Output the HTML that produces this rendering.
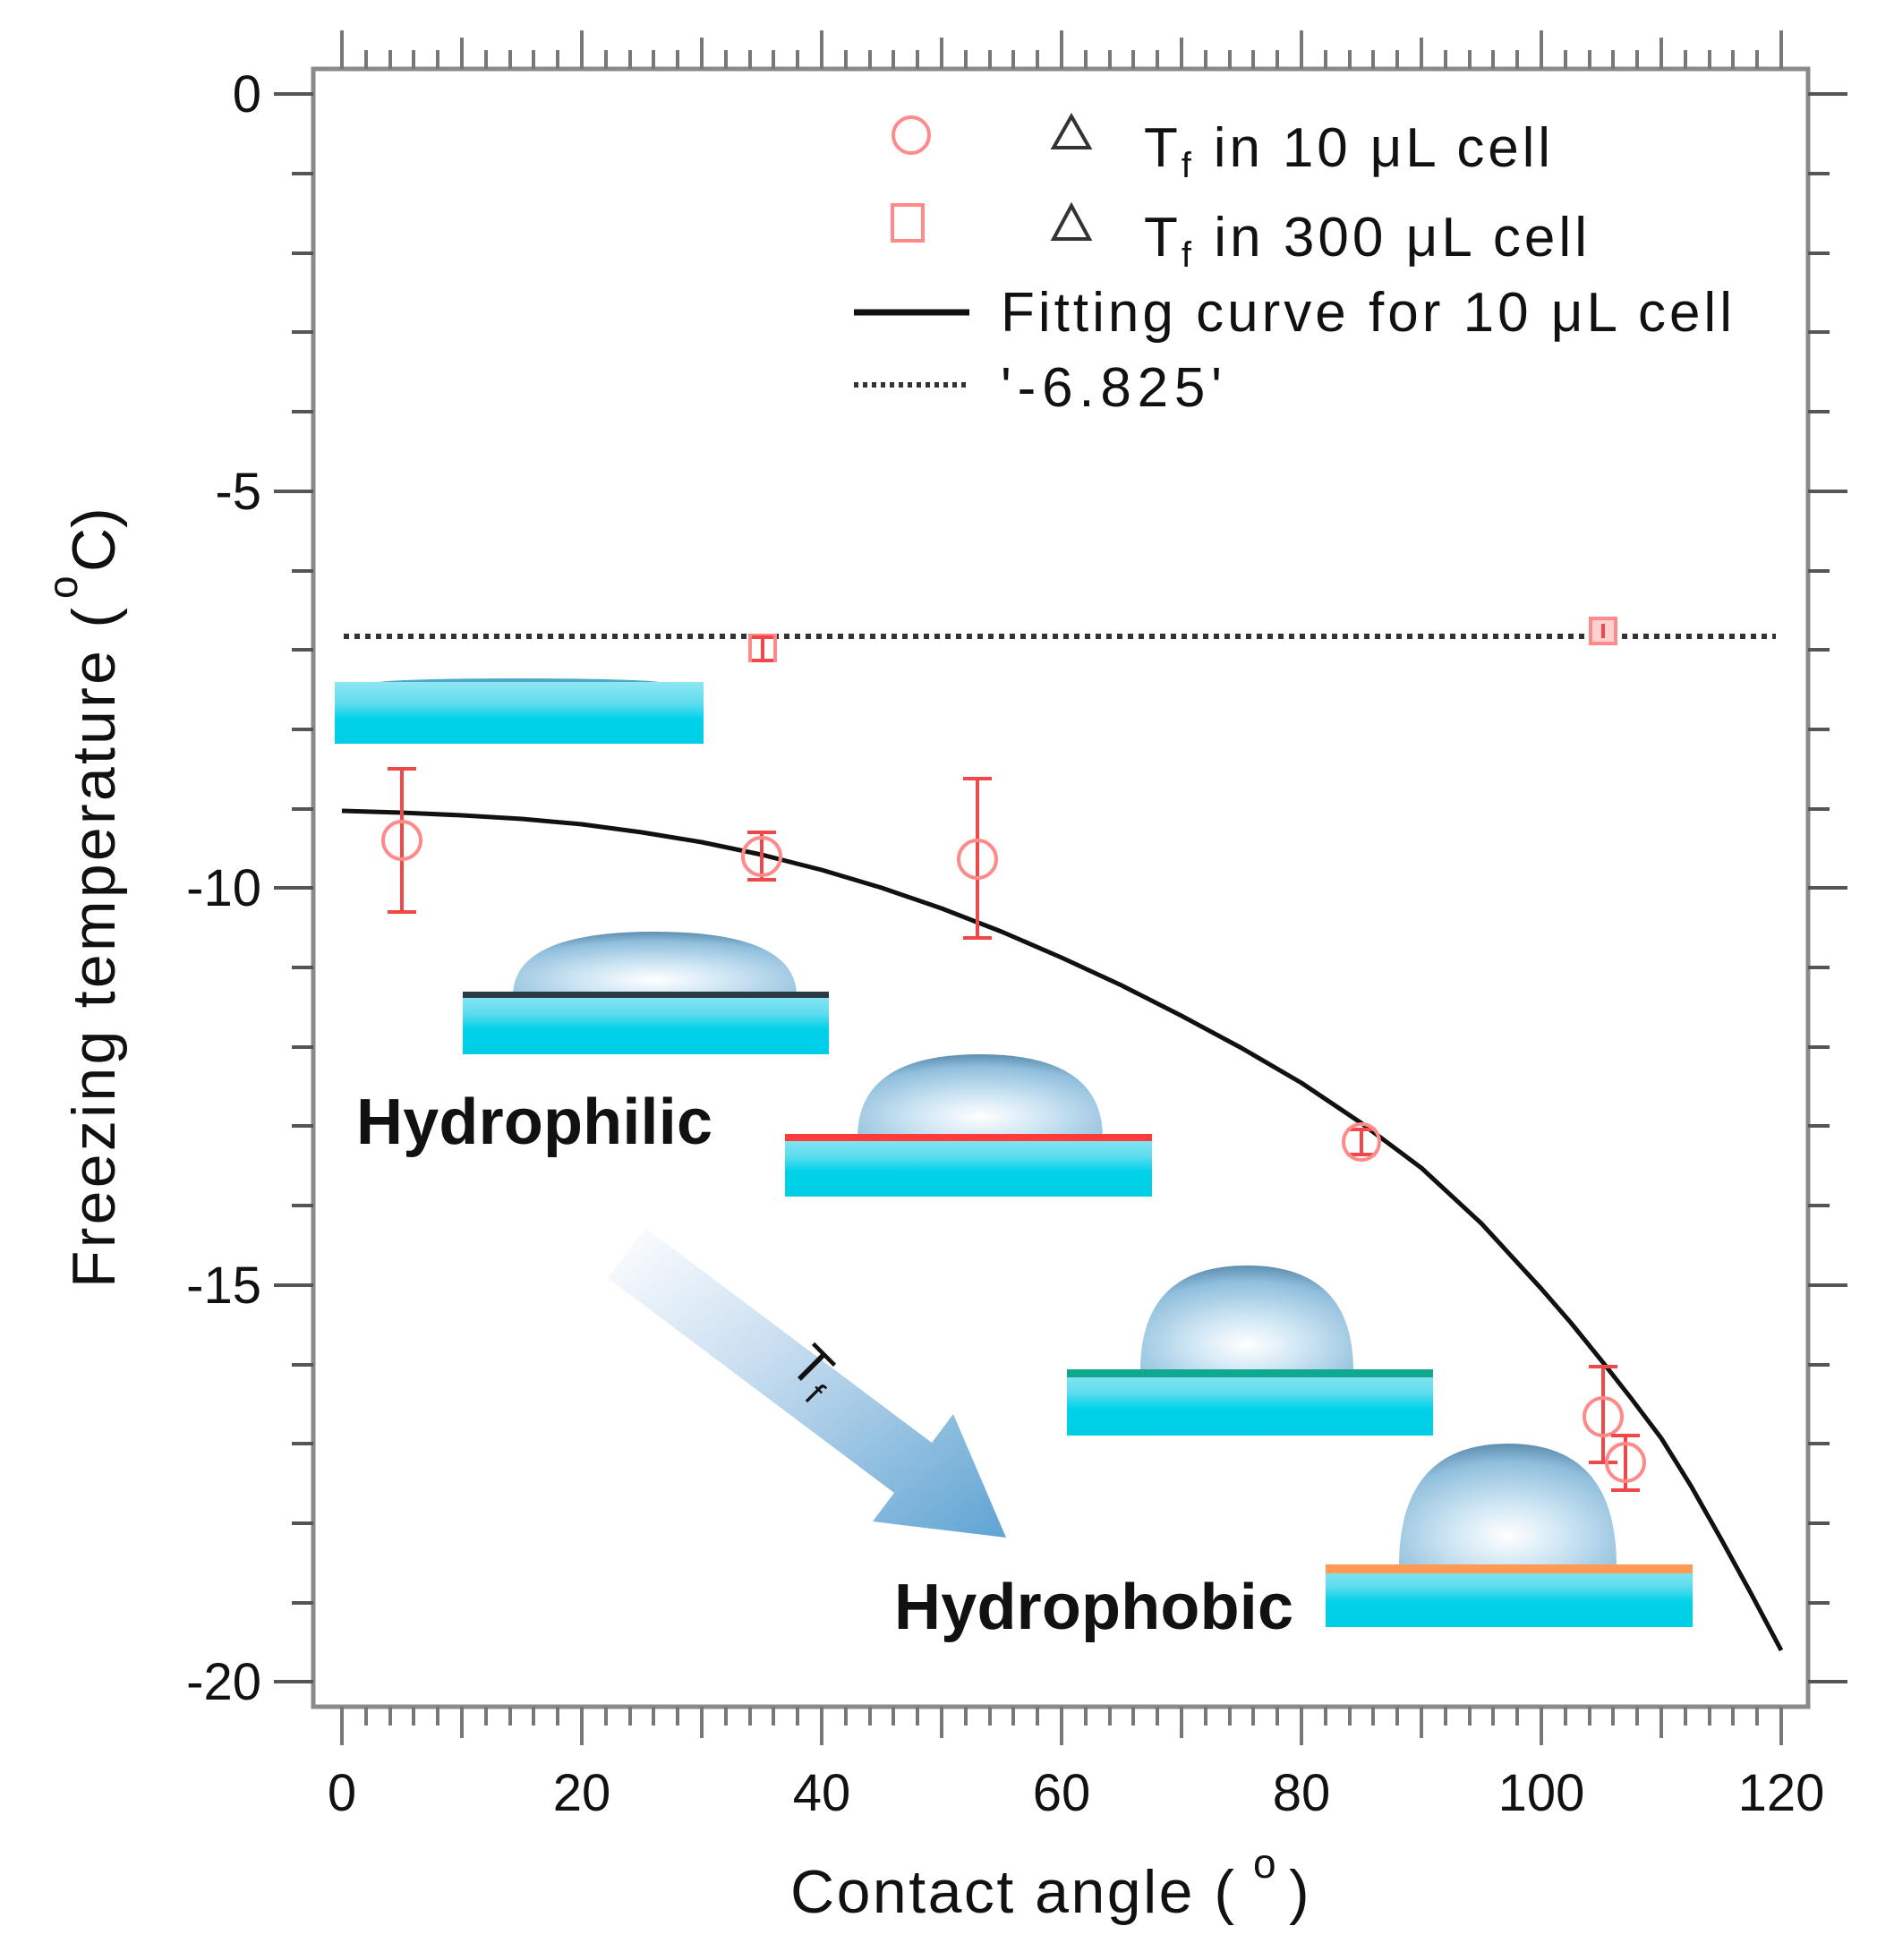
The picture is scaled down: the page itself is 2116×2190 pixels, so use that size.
<!DOCTYPE html>
<html><head><meta charset="utf-8"><style>
html,body{margin:0;padding:0;background:#fff;}
svg{display:block;}
text{font-family:"Liberation Sans",sans-serif;}
</style></head><body>
<svg width="2116" height="2190" viewBox="0 0 2116 2190" xmlns="http://www.w3.org/2000/svg">
<defs>
<linearGradient id="sub" x1="0" y1="0" x2="0" y2="1">
<stop offset="0" stop-color="#8fe6f2"/><stop offset="0.35" stop-color="#5fdcee"/><stop offset="0.6" stop-color="#00d2ea"/><stop offset="1" stop-color="#00cde6"/></linearGradient>
<radialGradient id="drop" cx="0.5" cy="0.75" r="0.75">
<stop offset="0" stop-color="#ffffff"/><stop offset="0.35" stop-color="#cfe6f4"/><stop offset="0.8" stop-color="#8fbedc"/><stop offset="1" stop-color="#5f8fb0"/></radialGradient>
<linearGradient id="arr" x1="0" y1="0" x2="1" y2="1">
<stop offset="0" stop-color="#ffffff"/><stop offset="0.4" stop-color="#c9def0"/><stop offset="1" stop-color="#5fa4d2"/></linearGradient>
</defs>

<rect x="350" y="77" width="1670" height="1830" fill="none" stroke="#8a8a8a" stroke-width="5"/>

<g stroke="#555" stroke-width="4">
<path d="M306 105H350M306 549H350M306 992H350M306 1436H350M306 1879H350M2020 105H2064M2020 549H2064M2020 992H2064M2020 1436H2064M2020 1879H2064"/>
<path d="M326 194H350M326 283H350M326 371H350M326 460H350M326 638H350M326 726H350M326 815H350M326 904H350M326 1081H350M326 1170H350M326 1258H350M326 1347H350M326 1525H350M326 1613H350M326 1702H350M326 1791H350
M2020 194H2044M2020 283H2044M2020 371H2044M2020 460H2044M2020 638H2044M2020 726H2044M2020 815H2044M2020 904H2044M2020 1081H2044M2020 1170H2044M2020 1258H2044M2020 1347H2044M2020 1525H2044M2020 1613H2044M2020 1702H2044M2020 1791H2044"/>
</g>
<g stroke="#777" stroke-width="4" id="xt">
<path d="M382 1907V1950M650 1907V1950M918 1907V1950M1186 1907V1950M1454 1907V1950M1722 1907V1950M1990 1907V1950
M516 1907V1942M784 1907V1942M1052 1907V1942M1320 1907V1942M1588 1907V1942M1856 1907V1942
M409 1907V1928M436 1907V1928M462 1907V1928M489 1907V1928M543 1907V1928M570 1907V1928M596 1907V1928M623 1907V1928M677 1907V1928M704 1907V1928M730 1907V1928M757 1907V1928M811 1907V1928M838 1907V1928M864 1907V1928M891 1907V1928M945 1907V1928M972 1907V1928M998 1907V1928M1025 1907V1928M1079 1907V1928M1106 1907V1928M1132 1907V1928M1159 1907V1928M1213 1907V1928M1240 1907V1928M1266 1907V1928M1293 1907V1928M1347 1907V1928M1374 1907V1928M1400 1907V1928M1427 1907V1928M1481 1907V1928M1508 1907V1928M1534 1907V1928M1561 1907V1928M1615 1907V1928M1642 1907V1928M1668 1907V1928M1695 1907V1928M1749 1907V1928M1776 1907V1928M1802 1907V1928M1829 1907V1928M1883 1907V1928M1910 1907V1928M1936 1907V1928M1963 1907V1928"/>
</g>
<use href="#xt" transform="translate(0,1984) scale(1,-1)"/>

<g font-size="58" fill="#111" text-anchor="end">
<text x="292" y="125">0</text><text x="292" y="569">-5</text><text x="292" y="1012">-10</text><text x="292" y="1456">-15</text><text x="292" y="1899">-20</text>
</g>
<g font-size="58" fill="#111" text-anchor="middle">
<text x="382" y="2023">0</text><text x="650" y="2023">20</text><text x="918" y="2023">40</text><text x="1186" y="2023">60</text><text x="1454" y="2023">80</text><text x="1722" y="2023">100</text><text x="1990" y="2023">120</text>
</g>
<text x="883" y="2137" font-size="68" fill="#111" textLength="496">Contact angle (</text>
<text x="1400" y="2098" font-size="46" fill="#111">o</text>
<text x="1440" y="2137" font-size="68" fill="#111">)</text>
<g transform="translate(128,1439) rotate(-90)">
<text x="0" y="0" font-size="68" fill="#111" textLength="760">Freezing temperature (</text>
<text x="770" y="-42" font-size="46" fill="#111">o</text>
<text x="800" y="0" font-size="68" fill="#111">C)</text>
</g>

<line x1="384" y1="711" x2="1984" y2="711" stroke="#333" stroke-width="6" stroke-dasharray="6,6"/>

<g>
<ellipse cx="580" cy="763" rx="160" ry="5" fill="#4aa8c8"/>
<rect x="374" y="762" width="412" height="69" fill="url(#sub)"/>

<path d="M573 1113 Q573 1041 731 1041 Q890 1041 890 1113Z" fill="url(#drop)"/>
<rect x="517" y="1108" width="409" height="70" fill="url(#sub)"/>
<rect x="517" y="1108" width="409" height="7" fill="#2a3a44"/>

<path d="M958 1271 Q958 1178 1095 1178 Q1232 1178 1232 1271Z" fill="url(#drop)"/>
<rect x="877" y="1267" width="410" height="70" fill="url(#sub)"/>
<rect x="877" y="1267" width="410" height="8" fill="#ff3a3a"/>

<path d="M1274 1532 Q1274 1414 1393 1414 Q1512 1414 1512 1532Z" fill="url(#drop)"/>
<rect x="1192" y="1530" width="409" height="74" fill="url(#sub)"/>
<rect x="1192" y="1530" width="409" height="9" fill="#10a890"/>

<path d="M1563 1750 Q1563 1613 1685 1613 Q1806 1613 1806 1750Z" fill="url(#drop)"/>
<rect x="1481" y="1748" width="410" height="70" fill="url(#sub)"/>
<rect x="1481" y="1748" width="410" height="10" fill="#ff9a55"/>
</g>

<polygon points="721,1372 1041,1612 1065,1580 1124,1718 975,1700 999,1668 679,1428" fill="url(#arr)"/>
<text transform="translate(880,1528) rotate(45)" font-size="60" fill="#111">T<tspan font-size="38" dy="12">f</tspan></text>

<text x="398" y="1278" font-size="72" font-weight="bold" fill="#111" textLength="398">Hydrophilic</text>
<text x="999" y="1820" font-size="72" font-weight="bold" fill="#111" textLength="446">Hydrophobic</text>

<polyline fill="none" stroke="#111" stroke-width="5" stroke-linejoin="round" points="382,906 449,908 516,911 583,915 650,921 717,930 784,941 851,955 918,972 985,992 1052,1015 1119,1041 1186,1070 1253,1101 1320,1135 1387,1171 1454,1210 1521,1255 1588,1305 1655,1367 1722,1440 1755,1478 1789,1520 1822,1562 1856,1607 1889,1660 1923,1720 1956,1780 1990,1844"/>

<g stroke="#f04848" stroke-width="4" fill="none">
<path d="M449 859V1019M433 859H465M433 1019H465"/><circle cx="449" cy="939" r="21" stroke="#ff8a8a"/>
<path d="M851 930V983M835 930H867M835 983H867"/><circle cx="851" cy="957" r="21" stroke="#ff8a8a"/>
<path d="M1092 870V1048M1076 870H1108M1076 1048H1108"/><circle cx="1092" cy="960" r="21" stroke="#ff8a8a"/>
<path d="M1521 1262V1290M1505 1262H1537M1505 1290H1537"/><circle cx="1521" cy="1276" r="20" stroke="#ff8a8a"/>
<path d="M1791 1527V1634M1775 1527H1807M1775 1634H1807"/><circle cx="1791" cy="1583" r="21" stroke="#ff8a8a"/>
<path d="M1816 1604V1665M1800 1604H1832M1800 1665H1832"/><circle cx="1816" cy="1634" r="21" stroke="#ff8a8a"/>
<rect x="838" y="710" width="28" height="28" stroke="#ff8a8a"/><path d="M852 712V738M840 712H864M840 738H864"/>
<rect x="1777" y="691" width="28" height="28" stroke="#ff8a8a" fill="#ffd0d0"/><path d="M1791 697V713"/>
</g>

<circle cx="1018" cy="151" r="20" fill="none" stroke="#ff8a8a" stroke-width="4"/>
<rect x="997" y="229" width="34" height="40" fill="none" stroke="#ff8a8a" stroke-width="4"/>
<polygon points="1197,130 1177,165 1217,165" fill="none" stroke="#333" stroke-width="4"/>
<polygon points="1197,230 1177,267 1217,267" fill="none" stroke="#333" stroke-width="4"/>
<text x="1278" y="186" font-size="62" fill="#111" textLength="454">T<tspan font-size="40" dy="12">f</tspan><tspan dy="-12"> in 10 μL cell</tspan></text>
<text x="1278" y="286" font-size="62" fill="#111" textLength="495">T<tspan font-size="40" dy="12">f</tspan><tspan dy="-12"> in 300 μL cell</tspan></text>
<line x1="954" y1="349" x2="1083" y2="349" stroke="#111" stroke-width="7"/>
<text x="1118" y="370" font-size="62" fill="#111" textLength="817">Fitting curve for 10 μL cell</text>
<line x1="954" y1="430" x2="1083" y2="430" stroke="#333" stroke-width="6" stroke-dasharray="5,5"/>
<text x="1118" y="454" font-size="62" fill="#111" textLength="247">'-6.825'</text>
</svg>
</body></html>
